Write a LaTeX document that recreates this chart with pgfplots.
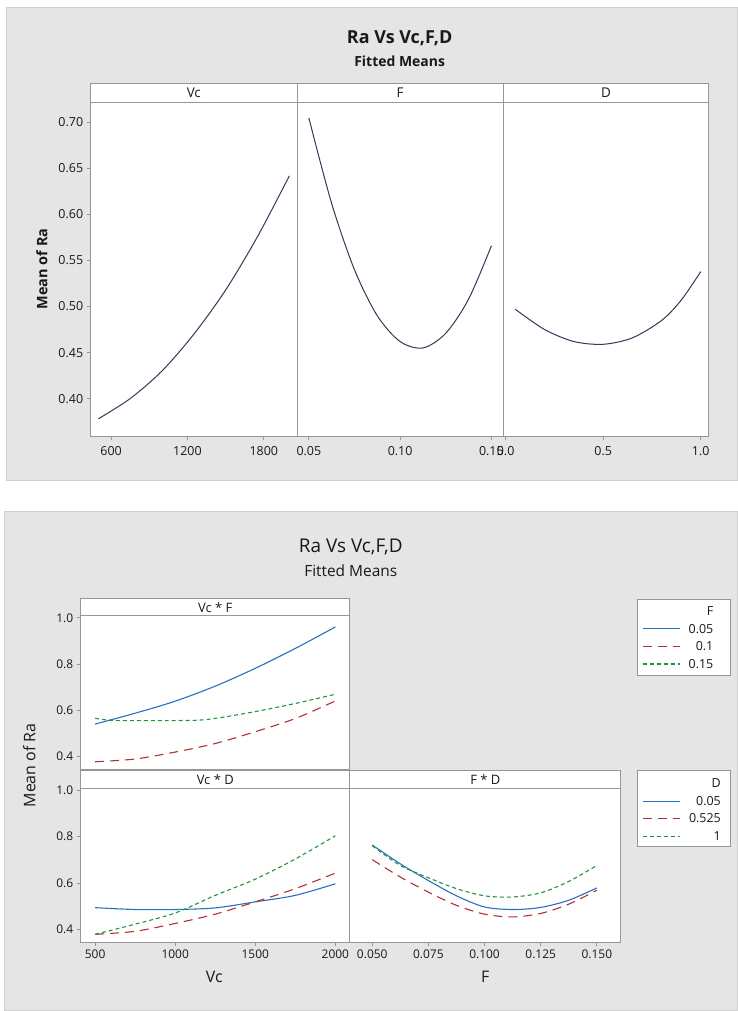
\documentclass[border=0pt]{standalone}
\usepackage{fontspec}
\setmainfont{Open Sans}
\usepackage{pgfplots}
\pgfplotsset{compat=1.18}

\definecolor{panelbg}{RGB}{229,229,229}
\definecolor{panelrule}{RGB}{208,208,208}
\definecolor{framecol}{RGB}{150,150,150}
\definecolor{mtblue}{RGB}{40,112,192}
\definecolor{mtred}{RGB}{178,48,48}
\definecolor{mtgreen}{RGB}{30,150,60}
\definecolor{mtnavy}{RGB}{45,60,85}
\definecolor{labcol}{RGB}{25,25,25}

\newcommand{\fs}[1]{\fontsize{#1}{#1}\selectfont}

\pgfplotsset{
  mtab/.style={
    scale only axis,
    axis background/.style={fill=white},
    axis line style={draw=framecol, line width=0.9pt},
    tick style={draw=framecol, line width=0.8pt},
    tick align=outside,
    major tick length=4pt,
    xtick pos=bottom, ytick pos=left,
    ticklabel style={font=\fs{12}, text=labcol},
    scaled ticks=false,
    /pgf/number format/assume math mode=true,
    /pgf/number format/1000 sep={},
    every axis plot/.append style={line width=1.1pt, smooth},
  },
}
\tikzset{
  fzero/.style={color=mtblue, solid},
  fone/.style={color=mtred, dash pattern=on 9pt off 6pt},
  ftwo/.style={color=mtgreen, dash pattern=on 4pt off 3pt},
  legtxt/.style={font=\fs{12.5}, text=labcol, anchor=east, inner sep=0pt},
}

\begin{document}
\begin{tikzpicture}
% canvas and panel backgrounds
\fill[white] (0pt,0pt) rectangle (737pt,-1011pt);
\draw[panelrule, fill=panelbg, line width=1pt] (7pt,-8pt) rectangle (740pt,-482pt);
\draw[panelrule, fill=panelbg, line width=1pt] (5pt,-513pt) rectangle (740pt,-1014pt);

% ---------- main effects ----------
\node[font=\bfseries\fs{18}, text=labcol] at (401pt,-38pt) {Ra Vs Vc,F,D};
\node[font=\bfseries\fs{14}, text=labcol] at (401pt,-61pt) {Fitted Means};
\node[font=\bfseries\fs{14.5}, text=labcol, rotate=90] at (42pt,-270pt) {Mean of Ra};

\begin{axis}[mtab, at={(91pt,-438pt)}, anchor=south west,
  width=207pt, height=335pt,
  xmin=440, xmax=2060, ymin=0.3588, ymax=0.7216,
  xtick={600,1200,1800},
  ytick={0.40,0.45,0.50,0.55,0.60,0.65,0.70},
  ticklabel style={font=\fs{12.5}},
  yticklabel style={/pgf/number format/fixed, /pgf/number format/fixed zerofill,
    /pgf/number format/precision=2},
  xticklabel style={yshift=-2pt}]
\addplot[mtnavy, line width=1pt] coordinates {
  (500,0.378) (750,0.400) (1000,0.430) (1250,0.470)
  (1500,0.518) (1750,0.576) (2000,0.642)};
\end{axis}

\begin{axis}[mtab, at={(298pt,-438pt)}, anchor=south west,
  width=207pt, height=335pt,
  xmin=0.0435, xmax=0.1565, ymin=0.3588, ymax=0.7216,
  xtick={0.05,0.10,0.15}, ytick=\empty,
  ticklabel style={font=\fs{12.5}},
  xticklabel style={/pgf/number format/fixed, /pgf/number format/fixed zerofill,
    /pgf/number format/precision=2, yshift=-2pt}]
\addplot[mtnavy, line width=1pt] coordinates {
  (0.05,0.705) (0.0625,0.612) (0.075,0.540) (0.0875,0.490) (0.10,0.462)
  (0.1125,0.455) (0.125,0.471) (0.1375,0.508) (0.15,0.566)};
\end{axis}

\begin{axis}[mtab, at={(505pt,-438pt)}, anchor=south west,
  width=206pt, height=335pt,
  xmin=-0.012, xmax=1.04, ymin=0.3588, ymax=0.7216,
  xtick={0,0.5,1}, ytick=\empty,
  ticklabel style={font=\fs{12.5}},
  xticklabel style={/pgf/number format/fixed, /pgf/number format/fixed zerofill,
    /pgf/number format/precision=1, yshift=-2pt}]
\addplot[mtnavy, line width=1pt] coordinates {
  (0.05,0.497) (0.2,0.475) (0.35,0.462) (0.5,0.459)
  (0.65,0.466) (0.8,0.485) (0.9,0.507) (1.0,0.538)};
\end{axis}

\draw[framecol, fill=white, line width=0.9pt] (91pt,-84pt) rectangle (711pt,-103pt);
\draw[framecol, line width=0.9pt] (298pt,-84pt) -- (298pt,-103pt)
  (505pt,-84pt) -- (505pt,-103pt);
\node[font=\fs{13.5}, text=labcol] at (194.5pt,-93.5pt) {Vc};
\node[font=\fs{13.5}, text=labcol] at (401.5pt,-93.5pt) {F};
\node[font=\fs{13.5}, text=labcol] at (608pt,-93.5pt) {D};

% ---------- interactions ----------
\node[font=\fs{19}, text=labcol] at (352pt,-549pt) {Ra Vs Vc,F,D};
\node[font=\fs{15.5}, text=labcol] at (352pt,-573pt) {Fitted Means};
\node[font=\fs{16}, text=labcol, rotate=90] at (29.5pt,-768pt) {Mean of Ra};
\node[font=\fs{16}, text=labcol] at (215pt,-980pt) {Vc};
\node[font=\fs{16}, text=labcol] at (487pt,-980pt) {F};

% Vc * F
\begin{axis}[mtab, at={(81pt,-772.3pt)}, anchor=south west,
  width=270pt, height=154.6pt,
  xmin=410, xmax=2090, ymin=0.344, ymax=1.010,
  xtick=\empty, ytick={0.4,0.6,0.8,1.0},
  yticklabel style={/pgf/number format/fixed, /pgf/number format/fixed zerofill,
    /pgf/number format/precision=1}]
\addplot[fzero] coordinates {
  (500,0.541) (750,0.588) (1000,0.640) (1250,0.705)
  (1500,0.782) (1750,0.868) (2000,0.961)};
\addplot[fone] coordinates {
  (500,0.378) (750,0.390) (1000,0.420) (1250,0.457)
  (1500,0.508) (1750,0.565) (2000,0.641)};
\addplot[ftwo] coordinates {
  (500,0.566) (600,0.557) (750,0.556) (1000,0.556) (1200,0.561)
  (1500,0.595) (1750,0.630) (2000,0.670)};
\end{axis}

% Vc * D
\begin{axis}[mtab, at={(81pt,-945.7pt)}, anchor=south west,
  width=270pt, height=155pt,
  xmin=410, xmax=2090, ymin=0.344, ymax=1.010,
  xtick={500,1000,1500,2000}, ytick={0.4,0.6,0.8,1.0},
  yticklabel style={/pgf/number format/fixed, /pgf/number format/fixed zerofill,
    /pgf/number format/precision=1}]
\addplot[fzero] coordinates {
  (500,0.494) (750,0.486) (1000,0.486) (1250,0.493)
  (1500,0.519) (1750,0.547) (2000,0.597)};
\addplot[fone] coordinates {
  (500,0.379) (750,0.392) (1000,0.426) (1250,0.466)
  (1500,0.519) (1750,0.576) (2000,0.643)};
\addplot[ftwo] coordinates {
  (500,0.379) (750,0.423) (1000,0.471) (1250,0.547)
  (1500,0.617) (1750,0.704) (2000,0.804)};
\end{axis}

% F * D
\begin{axis}[mtab, at={(351pt,-945.7pt)}, anchor=south west,
  width=272pt, height=155pt,
  xmin=0.04, xmax=0.1607, ymin=0.344, ymax=1.010,
  xtick={0.05,0.075,0.1,0.125,0.15}, ytick=\empty,
  xticklabel style={/pgf/number format/fixed, /pgf/number format/fixed zerofill,
    /pgf/number format/precision=3}]
\addplot[fzero] coordinates {
  (0.05,0.764) (0.0625,0.683) (0.075,0.611) (0.0875,0.545) (0.1,0.497)
  (0.1125,0.486) (0.125,0.495) (0.1375,0.526) (0.15,0.579)};
\addplot[fone] coordinates {
  (0.05,0.701) (0.0625,0.626) (0.075,0.561) (0.0875,0.504) (0.1,0.466)
  (0.1125,0.454) (0.125,0.469) (0.1375,0.509) (0.15,0.569)};
\addplot[ftwo] coordinates {
  (0.05,0.761) (0.0625,0.676) (0.075,0.623) (0.0875,0.576) (0.1,0.545)
  (0.1125,0.540) (0.125,0.558) (0.1375,0.607) (0.15,0.676)};
\end{axis}

\draw[framecol, fill=white, line width=0.9pt] (81pt,-601pt) rectangle (351pt,-617.7pt);
\draw[framecol, fill=white, line width=0.9pt] (81pt,-773.3pt) rectangle (351pt,-790.7pt);
\draw[framecol, fill=white, line width=0.9pt] (351pt,-773.3pt) rectangle (623pt,-790.7pt);
\node[font=\fs{13}, text=labcol] at (216pt,-609.5pt) {Vc * F};
\node[font=\fs{13}, text=labcol] at (216pt,-782pt) {Vc * D};
\node[font=\fs{13}, text=labcol] at (487pt,-782pt) {F * D};

% legend boxes (keys only, no data)
\draw[framecol, fill=white, line width=0.8pt] (640pt,-601pt) rectangle (733pt,-678pt);
\node[legtxt] at (716pt,-612.7pt) {F};
\draw[fzero, line width=1.1pt] (645pt,-631pt) -- (682pt,-631pt);
\node[legtxt] at (716pt,-631pt) {0.05};
\draw[fone, line width=1.1pt] (645pt,-648.3pt) -- (682pt,-648.3pt);
\node[legtxt] at (716pt,-648.3pt) {0.1};
\draw[ftwo, line width=1.1pt] (645pt,-666.3pt) -- (682pt,-666.3pt);
\node[legtxt] at (716pt,-666.3pt) {0.15};

\draw[framecol, fill=white, line width=0.8pt] (640pt,-772.7pt) rectangle (733pt,-849.3pt);
\node[legtxt] at (723.5pt,-786pt) {D};
\draw[fzero, line width=1.1pt] (645pt,-804pt) -- (682pt,-804pt);
\node[legtxt] at (723.5pt,-804pt) {0.05};
\draw[fone, line width=1.1pt] (645pt,-821.3pt) -- (682pt,-821.3pt);
\node[legtxt] at (723.5pt,-821.3pt) {0.525};
\draw[ftwo, line width=1.1pt] (645pt,-839.3pt) -- (682pt,-839.3pt);
\node[legtxt] at (723.5pt,-839.3pt) {1};
\end{tikzpicture}
\end{document}
